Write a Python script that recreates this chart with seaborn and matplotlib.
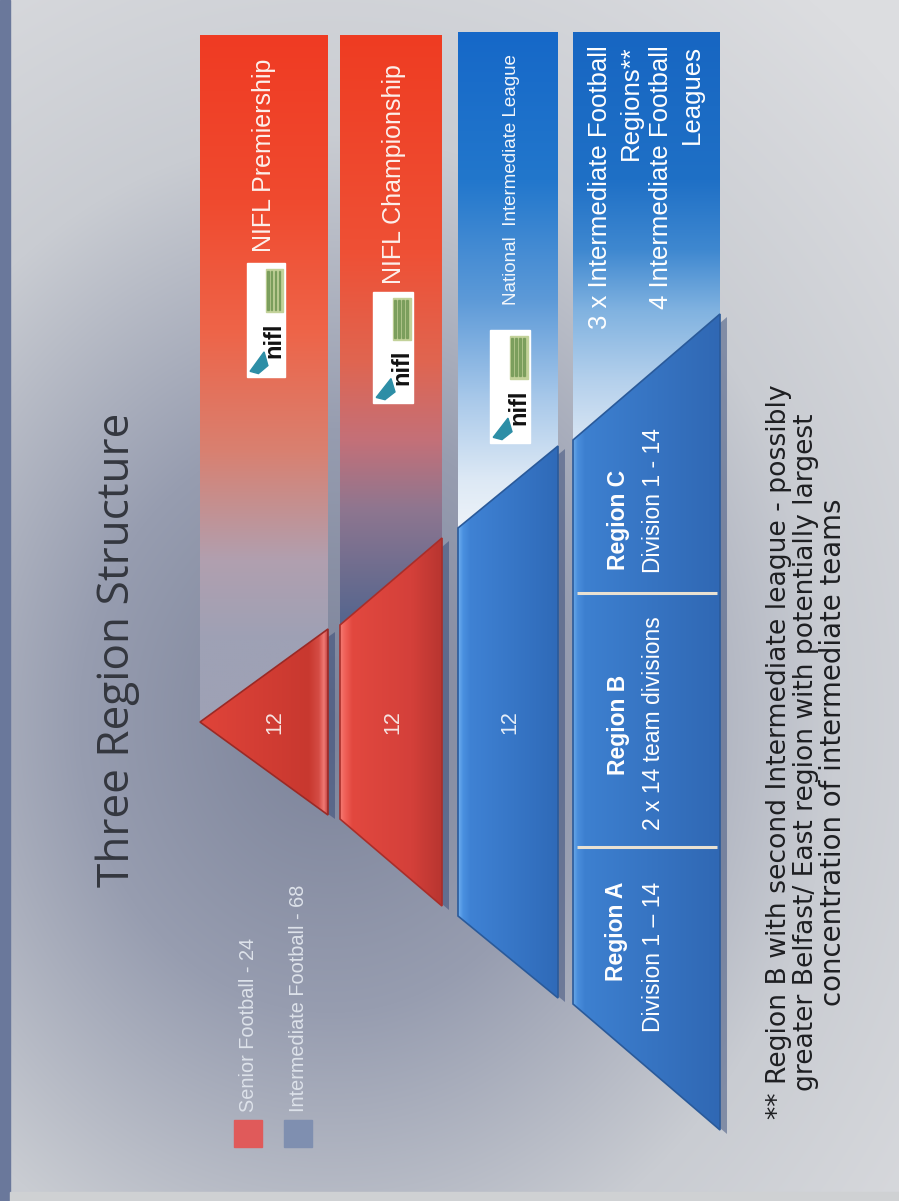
import numpy as np
import matplotlib
matplotlib.use("Agg")
import matplotlib.pyplot as plt
import matplotlib.colors as mcolors
from matplotlib.patches import Polygon, Rectangle
import seaborn as sns

# ---------------- data ----------------
title = "Three Region Structure"
tier_names = ["NIFL Premiership", "NIFL Championship", "National  Intermediate League"]
tier_teams = [12, 12, 12]
regional_lines = ["3 x Intermediate Football", "Regions**", "4 Intermediate Football", "Leagues"]
region_names = ["Region A", "Region B", "Region C"]
region_details = ["Division 1 \u2013 14", "2 x 14 team divisions", "Division 1 - 14"]
legend_labels = ["Senior Football", "Intermediate Football"]
legend_counts = [24, 68]
footnote_lines = ["** Region B with second Intermediate league - possibly",
                  "greater Belfast/ East region with potentially largest",
                  "concentration of intermediate teams"]

# ---------------- layout / style ----------------
sns.set_theme(style="white")
plt.rcParams["font.family"] = ["Liberation Sans", "DejaVu Sans"]

W, H = 899, 1201
fig = plt.figure(figsize=(W / 100, H / 100), dpi=100)
ax = fig.add_axes([0, 0, 1, 1])
ax.set_xlim(0, W)
ax.set_ylim(H, 0)
ax.axis("off")
R = fig.canvas.get_renderer()


def interp_colors(pos, stops):
    p = [s[0] for s in stops]
    cs = np.array([mcolors.to_rgb(s[1]) for s in stops])
    return np.stack([np.interp(pos, p, cs[:, i]) for i in range(3)], -1)


# background radial gradient
yy, xx = np.mgrid[0:H, 0:W]
d = np.sqrt(((xx - 330) / 560.0) ** 2 + ((yy - 720) / 650.0) ** 2)
bg = interp_colors(d, [(0, "#7b8299"), (0.45, "#979db0"), (0.9, "#c9ccd2"), (1.4, "#dcdde0")])
ax.imshow(bg, extent=(0, W, H, 0), zorder=0, aspect="auto", interpolation="bilinear")
ax.add_patch(Rectangle((0, 0), 10, H, color="#6a789b", zorder=1))
ax.add_patch(Rectangle((10, 1192), W, 9, color="#cfd1d3", zorder=1))

CY = 722
col_x = [(200, 328), (340, 442), (458, 558), (573, 720)]
col_top = [35, 35, 32, 32]
col_half = [(0, 93), (97, 184), (194, 276), (282, 408)]

above_stops = [
    [(35, "#ef3b23"), (200, "#f04a2f"), (330, "#ee6448"), (450, "#d98070"), (560, "#b19faf"), (640, "#9ea1b5")],
    [(35, "#ee3c22"), (250, "#ef5035"), (360, "#e06550"), (440, "#c47078"), (510, "#8e7690"), (620, "#56668e")],
    [(32, "#1668c8"), (180, "#2277cc"), (300, "#5d9ad8"), (400, "#a9c9ea"), (480, "#dde9f5"), (530, "#eef3f9")],
    [(32, "#1766c2"), (180, "#1f70c6"), (250, "#3f88d0"), (310, "#80b2e0"), (380, "#b4d0ec"), (445, "#dbe7f4")],
]
pyr_stops = [
    [(0, "#e0443a"), (0.85, "#c8382f"), (0.93, "#d44c44"), (0.97, "#f07a74"), (1, "#c04040")],
    [(0, "#f47a72"), (0.05, "#f06058"), (0.12, "#e2483f"), (0.7, "#d4403a"), (1, "#b83530")],
    [(0, "#6fb0f0"), (0.05, "#4a90e0"), (0.12, "#3f82d4"), (1, "#2f6ab8")],
    [(0, "#6aaae8"), (0.03, "#4a8edc"), (0.08, "#3d80d0"), (1, "#3068b4")],
]
pyr_edge = ["#9a2a26", "#a82e2a", "#2a5a9a", "#2a5a9a"]

for i, ((x0, x1), top, (h0, h1)) in enumerate(zip(col_x, col_top, col_half)):
    # upper bar part
    ybot = CY - h0
    ys = np.linspace(top, ybot, 400)
    img = interp_colors(ys, above_stops[i])[:, None, :]
    poly = Polygon([(x0, top), (x1, top), (x1, CY - h1), (x0, CY - h0)], closed=True,
                   transform=ax.transData, facecolor="none", edgecolor="none")
    ax.add_patch(poly)
    im = ax.imshow(img, extent=(x0, x1, ybot, top), zorder=2, aspect="auto", interpolation="bilinear")
    im.set_clip_path(poly)
    # shadow of pyramid part
    sh = Polygon([(x0 + 7, CY - h0 + 3), (x1 + 7, CY - h1 + 3), (x1 + 7, CY + h1 + 4), (x0 + 7, CY + h0 + 4)],
                 closed=True, facecolor="#2a3f70", alpha=0.45, edgecolor="none", zorder=2.5)
    ax.add_patch(sh)
    # pyramid part
    pp = Polygon([(x0, CY - h0), (x1, CY - h1), (x1, CY + h1), (x0, CY + h0)], closed=True,
                 transform=ax.transData, facecolor="none", edgecolor=pyr_edge[i], lw=1.2, zorder=3.5)
    ax.add_patch(pp)
    xs = np.linspace(0, 1, 300)
    himg = interp_colors(xs, pyr_stops[i])[None, :, :]
    im2 = ax.imshow(himg, extent=(x0, x1, CY + h1, CY - h1), zorder=3, aspect="auto", interpolation="bilinear")
    pclip = Polygon([(x0, CY - h0), (x1, CY - h1), (x1, CY + h1), (x0, CY + h0)], closed=True,
                    transform=ax.transData, facecolor="none", edgecolor="none")
    ax.add_patch(pclip)
    im2.set_clip_path(pclip)

ax.set_xlim(0, W)
ax.set_ylim(H, 0)

# separators in regional column
for ys_ in (593, 847):
    ax.plot([577, 717], [ys_, ys_], color="#e9e1d2", lw=2.2, zorder=4, solid_capstyle="butt")


def vtext(x, y, s, size, color="white", va="center", weight="normal", family=None, z=6):
    kw = dict(rotation=90, ha="center", va=va, fontsize=size, color=color, fontweight=weight, zorder=z)
    if family:
        kw["family"] = family
    return ax.text(x, y, s, **kw)


def fit(t, length):
    bb = t.get_window_extent(R)
    t.set_fontsize(t.get_fontsize() * length / bb.height)
    return t


# logos
def logo(x0, y0, x1, y1):
    w, h = x1 - x0, y1 - y0
    ax.add_patch(Rectangle((x0, y0), w, h, color="white", zorder=5))
    ax.add_patch(Rectangle((x0 + 0.5 * w, y0 + 0.05 * h), 0.45 * w, 0.38 * h, color="#c3d29a", zorder=5.2))
    for k in range(4):
        ax.add_patch(Rectangle((x0 + (0.53 + 0.1 * k) * w, y0 + 0.07 * h), 0.04 * w, 0.34 * h,
                               color="#5f8a44", alpha=0.6, zorder=5.3))
    vtext(x0 + 0.72 * w, y0 + 0.68 * h, "nifl", 17, color="#111111", weight="bold", z=5.4)
    ax.add_patch(Polygon([(x0 + 0.08 * w, y0 + 0.95 * h), (x0 + 0.45 * w, y0 + 0.78 * h),
                          (x0 + 0.55 * w, y0 + 0.9 * h), (x0 + 0.3 * w, y0 + 0.97 * h)],
                         closed=True, color="#2d8ea6", zorder=5.4))


logo(247, 263, 285, 377)
logo(373, 292, 413, 403)
logo(490, 330, 530, 443)

# tier labels
vtext(264, 252, tier_names[0], 18, va="bottom", color="#fdf0ec")
vtext(394, 284, tier_names[1], 18, va="bottom", color="#fdf0ec")
vtext(512, 305, tier_names[2], 13.5, va="bottom", color="#f2f6fb")

# team counts
for xc, n, c in zip([275, 393, 510], tier_teams, ["#f6e4e2", "#f6e4e2", "#e6eef8"]):
    vtext(xc, CY, str(n), 15.5, color=c)

# regional top text
for xl, line in zip([600, 631, 661, 692], regional_lines):
    vtext(xl, 45, line, 18.5, va="top", color="white")

# region cells
vtext(617, 882, region_names[0], 16.5, va="top", weight="bold")
vtext(653, 882, region_details[0], 16.5, va="top")
vtext(618, 725, region_names[1], 16.5, weight="bold")
vtext(653, 723, region_details[1], 16.5)
vtext(618, 570, region_names[2], 16.5, va="bottom", weight="bold")
vtext(653, 573, region_details[2], 16.5, va="bottom")

# title
t = vtext(118, 650, title, 31, color="#34373f", family=["Open Sans", "DejaVu Sans"])
fit(t, 474)

# footnote
for xl, line, L in zip([779, 806, 833], footnote_lines, [737, 680, 510]):
    t = vtext(xl, 752, line, 16, color="#1e1f22", family=["DejaVu Sans"])
    fit(t, L)

# legend
leg_colors = ["#e05a5a", "#7f8fb0"]
for xc, lab, cnt, c in zip([248, 298], legend_labels, legend_counts, leg_colors):
    ax.add_patch(Rectangle((xc - 14, 1120), 28, 27, color=c, zorder=5))
    vtext(xc, 1112, f"{lab} - {cnt}", 14.3, va="bottom", color="#dde2ea")

fig.savefig("out.png", dpi=100)
